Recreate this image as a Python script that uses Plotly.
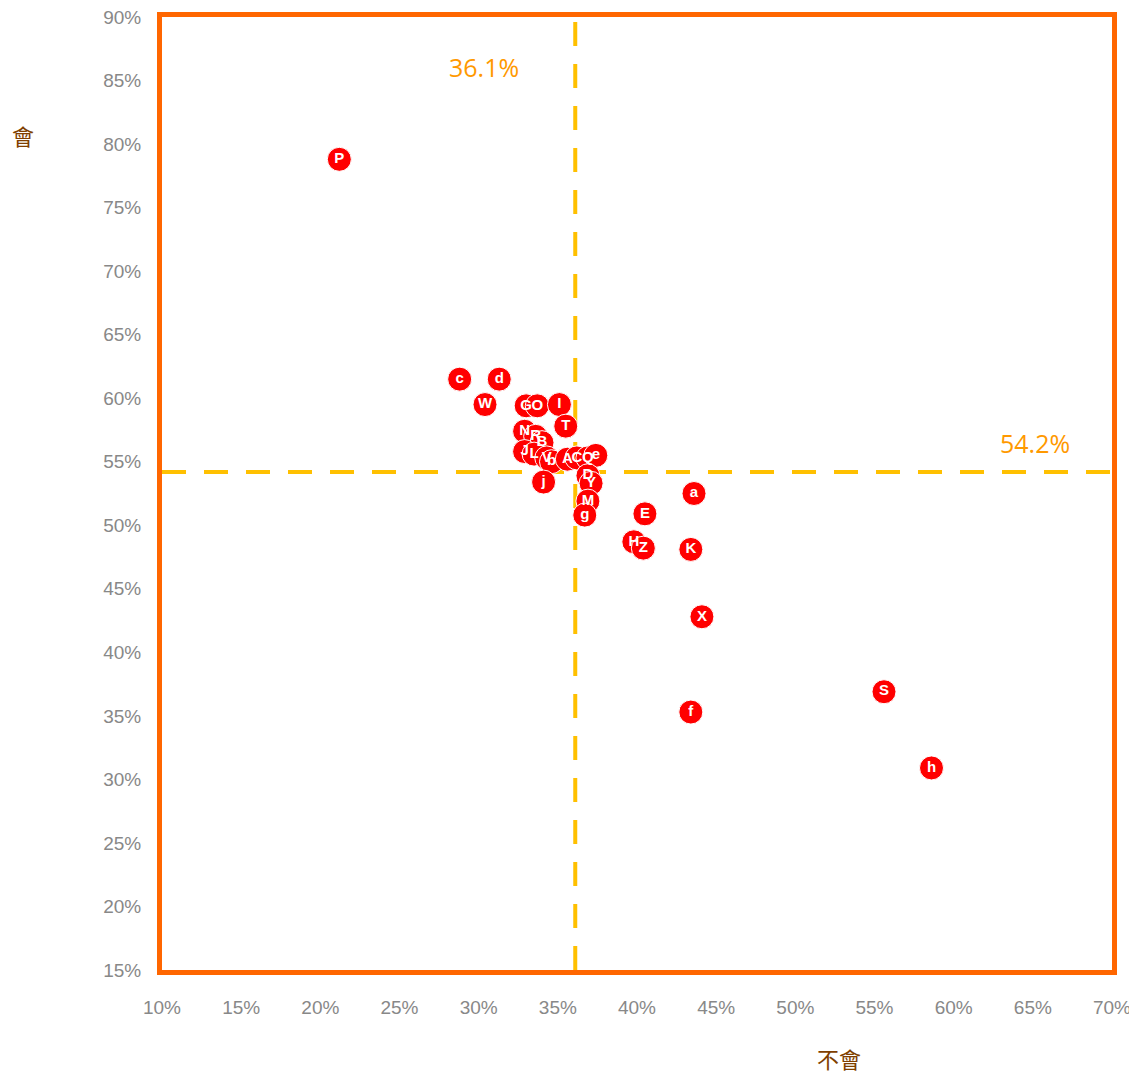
import plotly.graph_objects as go

labels = ["P", "c", "d", "W", "G", "O", "I", "T", "N", "R", "B", "J", "L", "V", "b",
          "A", "C", "Q", "e", "j", "D", "Y", "M", "g", "a", "E", "H", "Z", "K", "X",
          "f", "S", "h"]
x_vals = [21.2, 28.8, 31.3, 30.4, 33.0, 33.7, 35.1, 35.5, 32.9, 33.6, 34.0, 32.9, 33.5, 34.3, 34.6,
          35.6, 36.2, 36.9, 37.4, 34.1, 36.9, 37.1, 36.9, 36.7, 43.6, 40.5, 39.8, 40.4, 43.4, 44.1,
          43.4, 55.6, 58.6]
y_vals = [78.8, 61.5, 61.5, 59.5, 59.4, 59.4, 59.5, 57.8, 57.4, 57.0, 56.5, 55.8, 55.6, 55.3, 55.0,
          55.2, 55.3, 55.3, 55.5, 53.4, 53.9, 53.3, 51.9, 50.8, 52.5, 50.9, 48.7, 48.2, 48.1, 42.8,
          35.3, 36.9, 30.9]

x_ref = 36.1
y_ref = 54.2
x_ticks = list(range(10, 71, 5))
y_ticks = list(range(15, 91, 5))

fig = go.Figure()
fig.add_trace(go.Scatter(
    x=x_vals, y=y_vals, mode="markers+text", text=labels,
    textposition="middle center",
    textfont=dict(color="white", size=15, family="Liberation Sans, Arial, sans-serif", weight="bold"),
    marker=dict(color="#FF0000", size=24, line=dict(color="white", width=1)),
    hoverinfo="skip", showlegend=False, cliponaxis=False,
))

fig.add_shape(type="line", x0=x_ref, x1=x_ref, y0=15, y1=90, xref="x", yref="y",
              line=dict(color="#FFC000", width=4, dash="24px,18px"), layer="below")
fig.add_shape(type="line", x0=10, x1=70, y0=y_ref, y1=y_ref, xref="x", yref="y",
              line=dict(color="#FFC000", width=4, dash="24px,18px"), layer="below")

ann_font = dict(color="#FF9900", size=25, family="Open Sans, Liberation Sans, sans-serif")
fig.add_annotation(x=x_ref, y=90, xref="x", yref="y", text=f"{x_ref}%", showarrow=False,
                   font=ann_font, xshift=-91, yshift=-50)
fig.add_annotation(x=70, y=y_ref, xref="x", yref="y", text=f"{y_ref}%", showarrow=False,
                   font=ann_font, xshift=-77, yshift=29)

title_font = dict(color="#7F3F00", size=22, family="Noto Sans CJK TC, sans-serif")
fig.add_annotation(x=0, y=1, xref="paper", yref="paper", text="會", showarrow=False,
                   font=title_font, xshift=-152, yshift=-100)
fig.add_annotation(x=0.711, y=0, xref="paper", yref="paper", text="不會", showarrow=False,
                   font=title_font, xshift=26, yshift=-106)

tick_font = dict(color="#888888", size=19, family="Liberation Sans, Arial, sans-serif")
fig.update_xaxes(range=[10, 70], tickvals=x_ticks, ticktext=[f"{v}%" for v in x_ticks],
                 tickfont=tick_font, showgrid=False, zeroline=False, automargin=False,
                 ticklabeloverflow="allow",
                 showline=True, mirror=True, linecolor="#FF6600", linewidth=5,
                 ticks="outside", ticklen=16, tickcolor="rgba(0,0,0,0)")
fig.update_yaxes(range=[15, 90], tickvals=y_ticks, ticktext=[f"{v}%" for v in y_ticks],
                 tickfont=tick_font, showgrid=False, zeroline=False, automargin=False,
                 ticklabeloverflow="allow",
                 showline=True, mirror=True, linecolor="#FF6600", linewidth=5,
                 ticks="outside", ticklen=12, tickcolor="rgba(0,0,0,0)")

fig.update_layout(width=1129, height=1066, plot_bgcolor="white", paper_bgcolor="white",
                  margin=dict(l=154, r=25, t=9, b=104))
fig.write_html("out.html")
